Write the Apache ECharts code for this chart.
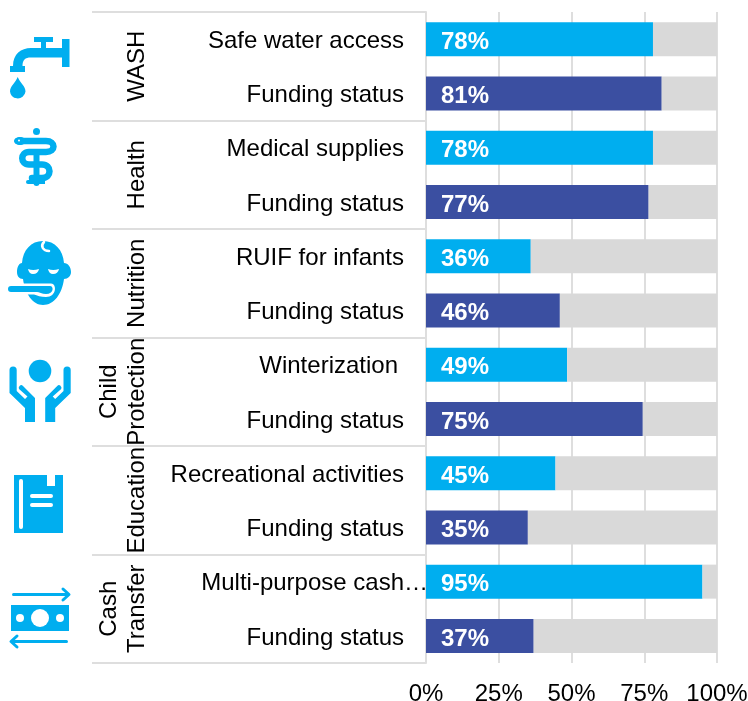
<!DOCTYPE html>
<html>
<head>
<meta charset="utf-8">
<style>
html, body { margin: 0; padding: 0; background: #fff; }
#main { width: 748px; height: 701px; }
</style>
<script src="https://cdn.jsdelivr.net/npm/echarts@6/dist/echarts.min.js"></script>
</head>
<body>
<div id="main"></div>
<script>
var groups = ['WASH', 'Health', 'Nutrition', 'Child\nProtection', 'Education', 'Cash\nTransfer'];
var indicators = ['Safe water access', 'Medical supplies', 'RUIF for infants', 'Winterization', 'Recreational activities', 'Multi-purpose cash…'];
// bar lengths, labels show them rounded
var indicatorValues = [78, 78, 36, 48.5, 44.5, 95];
var fundingValues = [81, 76.5, 46, 74.5, 35, 37];
var axisTicks = [0, 25, 50, 75, 100];

var CYAN = '#00aeef';
var NAVY = '#3b4fa1';
var GREY = '#d9d9d9';
var LINE = '#dedede';
var FONT = '"Liberation Sans", Arial, sans-serif';

// each group has its indicator row, then a funding row
var rows = [], rowValues = [], rowColors = [];
groups.forEach(function (g, i) {
    rows.push(indicators[i], 'Funding status');
    rowValues.push(indicatorValues[i], fundingValues[i]);
    rowColors.push(CYAN, NAVY);
});

// graphic component has no 'path' type, so each svg path gets registered as a shape
var shapeCount = 0;
function pathEl(d, style) {
    var name = 'iconPath' + (shapeCount++);
    echarts.graphic.registerShape(name, echarts.graphic.extendPath(d, {}));
    return { type: name, style: style };
}
function icon(d) {
    return pathEl(d, { fill: CYAN });
}
function blank(d) {
    return pathEl(d, { fill: '#fff' });
}
function wire(d, color, w) {
    return pathEl(d, { fill: 'none', stroke: color || CYAN, lineWidth: w || 3, lineCap: 'round', lineJoin: 'round' });
}

var icons = [
    // tap
    icon('M34 37 H53 V42 H46 V48 H62 V39 H69.5 V67 H62 V57.5 H31 C25 57.5 22.5 60 22.5 66 H25 V72 H10 V66 H13 C13 54 21 48 31 48 H41 V42 H34 Z'),
    icon('M17.7 77 C20 83 25.5 86 25.5 91.5 A7.8 7.8 0 0 1 10 91.5 C10 86 15.5 83 17.7 77 Z'),
    // staff and snake
    { type: 'circle', shape: { cx: 36.5, cy: 131.5, r: 3.5 }, style: { fill: CYAN } },
    icon('M33.5 150 H39.5 V183 A3 3 0 0 1 33.5 183 Z'),
    icon('M28 180 H45 V184 H28 A2 2 0 0 1 28 180 Z'),
    wire('M18 141 H46 C56 141 56 152 46 152 H29 C20 152 20 164.5 29 164.5 H42 C52 164.5 52 178 42 178 H32', CYAN, 6.5),
    { type: 'ellipse', shape: { cx: 20, cy: 141, rx: 6, ry: 4 }, style: { fill: CYAN } },
    { type: 'circle', shape: { cx: 19, cy: 140.5, r: 1 }, style: { fill: '#fff' } },
    // baby
    icon('M43 241 C55 241 63 250 64 263 C68 263 71 267 71 272 C71 276 68 279 64 279 C62 294 54 305 43 305 C33 305 25 294 23 279 C19 279 17 276 17 272 C17 267 19 263 22 263 C23 250 31 241 43 241 Z'),
    wire('M44 242 C40 246 43 251 49 251', '#fff', 2.5),
    blank('M28 269 Q33 271 39 269 Q38 274 33 274 Q29 274 28 269 Z M48 269 Q53 271 59 269 Q58 274 53 274 Q49 274 48 269 Z'),
    blank('M8 283.5 H51 C57 283.5 57 297 46 297 C41 297 37 295.5 34 294.5 H8 Z'),
    icon('M11 286 H50 C54 286 54 294 46 294 C42 294 39 292 37 292 H11 A3 3 0 0 1 11 286 Z'),
    // hands
    { type: 'circle', shape: { cx: 40, cy: 371, r: 11.3 }, style: { fill: CYAN } },
    icon('M9.5 370 A3.6 3.6 0 0 1 16.7 370 V391 L25 399 L27.5 396.5 L19 389 Q18 387 20 385.5 Q21.5 384.5 23 386 L35 398 V422 H25 V408 L9.5 393 Z'),
    icon('M70.7 370 A3.6 3.6 0 0 0 63.5 370 V391 L55.2 399 L52.7 396.5 L61.2 389 Q62.2 387 60.2 385.5 Q58.7 384.5 57.2 386 L45.2 398 V422 H55.2 V408 L70.7 393 Z'),
    // book
    icon('M14 475 H47 V486 H55 V475 H63 V533 H14 Z'),
    blank('M19 481 A2 2 0 0 1 23 481 V527 A2 2 0 0 1 19 527 Z'),
    blank('M32 494 H51 A2 2 0 0 1 51 498 H32 A2 2 0 0 1 32 494 Z M32 503 H51 A2 2 0 0 1 51 507 H32 A2 2 0 0 1 32 503 Z'),
    // banknote and arrows
    icon('M11 605 H69 V631 H11 Z'),
    { type: 'circle', shape: { cx: 40, cy: 618, r: 9 }, style: { fill: '#fff' } },
    { type: 'circle', shape: { cx: 20, cy: 618, r: 4 }, style: { fill: '#fff' } },
    { type: 'circle', shape: { cx: 60, cy: 618, r: 4 }, style: { fill: '#fff' } },
    wire('M13.5 594.5 H68.5 M63 589 L69 594.5 L63 600'),
    wire('M66.5 641.5 H11.5 M17 636 L11 641.5 L17 647')
];

var option = {
    animation: false,
    textStyle: { fontFamily: FONT },
    // v6 squeezes the grid to keep labels in its outer bounds, switch that off
    grid: { left: 426, right: 31, top: 12, bottom: 38, outerBoundsMode: 'none' },
    graphic: { elements: icons.map(function (e) { e.silent = true; return e; }) },
    xAxis: {
        type: 'value',
        min: axisTicks[0],
        max: axisTicks[axisTicks.length - 1],
        interval: 25,
        axisLine: { show: false },
        axisTick: { show: false },
        splitLine: { show: true, lineStyle: { color: LINE, width: 2 } },
        axisLabel: {
            color: '#000', fontSize: 24, fontFamily: FONT, margin: 19,
            formatter: '{value}%'
        }
    },
    yAxis: [{
        type: 'category',
        inverse: true,
        data: rows,
        axisLine: { show: true, lineStyle: { color: LINE, width: 2 } },
        axisTick: { show: false },
        axisLabel: {
            interval: 0,
            margin: -2,
            formatter: function (v) {
                if (v === 'Multi-purpose cash…') return '{flush|' + v + '}';
                if (v === 'Winterization') return '{winter|' + v + '}';
                return '{row|' + v + '}';
            },
            rich: {
                row: { color: '#000', fontSize: 24, fontFamily: FONT, padding: [4, 24, 0, 0] },
                winter: { color: '#000', fontSize: 24, fontFamily: FONT, padding: [4, 30, 0, 0] },
                flush: { color: '#000', fontSize: 24, fontFamily: FONT, padding: [4, 0, 0, 0] }
            }
        }
    }, {
        type: 'category',
        inverse: true,
        position: 'left',
        data: groups,
        axisLine: { show: false },
        axisTick: { show: true, length: 334, lineStyle: { color: LINE, width: 2 } },
        axisLabel: {
            interval: 0,
            rotate: 90,
            margin: 275,
            align: 'center',
            verticalAlign: 'bottom',
            lineHeight: 28,
            color: '#000',
            fontSize: 24,
            fontFamily: FONT
        }
    }],
    series: [{
        type: 'bar',
        stack: 'total',
        yAxisIndex: 0,
        barWidth: 34,
        data: rowValues.map(function (v, i) {
            return { value: v, itemStyle: { color: rowColors[i] } };
        }),
        label: {
            show: true,
            position: 'insideLeft',
            distance: 15,
            offset: [0, 3],
            color: '#fff',
            fontSize: 24,
            fontWeight: 'bold',
            fontFamily: FONT,
            formatter: function (p) { return Math.round(p.value) + '%'; }
        }
    }, {
        type: 'bar',
        stack: 'total',
        yAxisIndex: 0,
        barWidth: 34,
        itemStyle: { color: GREY },
        data: rowValues.map(function (v) { return 100 - v; })
    }]
};

echarts.init(document.getElementById('main')).setOption(option);
</script>
</body>
</html>
